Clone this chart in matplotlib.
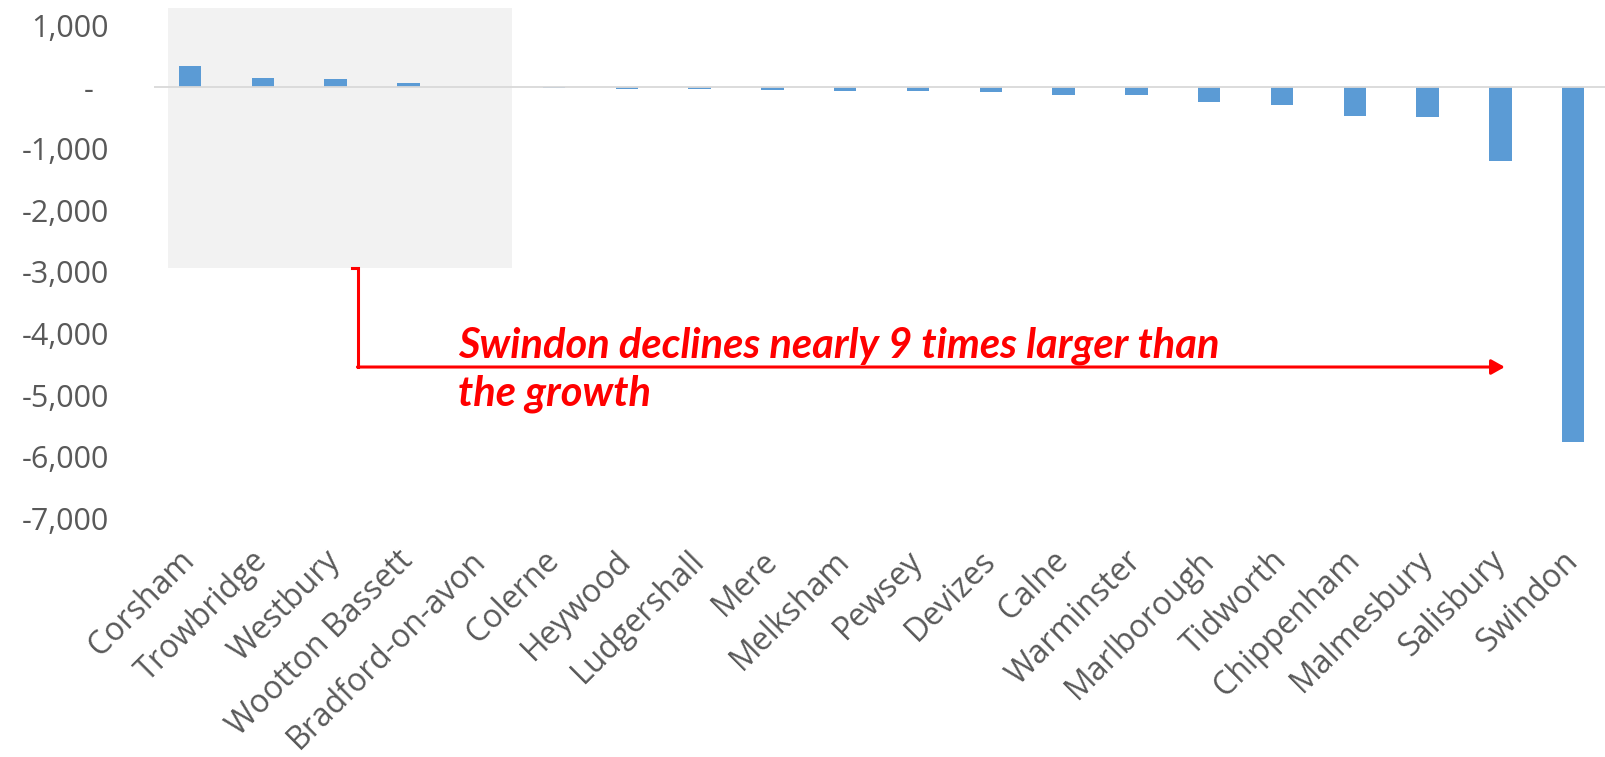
import matplotlib
matplotlib.use("Agg")
from matplotlib import pyplot as plt
from matplotlib.patches import Rectangle
from matplotlib.ticker import FuncFormatter
import numpy as np


# Datos: cambio por ciudad.
ciudades = ["Corsham", "Trowbridge", "Westbury", "Wootton Bassett", "Bradford-on-avon",
            "Colerne", "Heywood", "Ludgershall", "Mere", "Melksham", "Pewsey", "Devizes",
            "Calne", "Warminster", "Marlborough", "Tidworth", "Chippenham", "Malmesbury",
            "Salisbury", "Swindon"]
valores = [345, 145, 135, 65, 0, -15, -25, -30, -50, -55, -62, -82,
           -125, -132, -235, -295, -462, -485, -1197, -5755]
y_ticks = list(range(-7000, 1001, 1000))
nota = "Swindon declines nearly 9 times larger than\nthe growth"

gris_texto = "#595959"

fig = plt.figure(figsize=(16.06, 7.57), dpi=100)
ax = fig.add_axes([153.6 / 1606, 1 - 518.3 / 757, 1456 / 1606, 492.6 / 757])

x = np.arange(len(ciudades))
ax.bar(x, valores, width=0.31, color="#5B9BD5", zorder=2)
ax.axhline(0, color="#D9D9D9", lw=1.3, zorder=3)

ax.set_xlim(-0.5, len(ciudades) - 0.5)
ax.set_ylim(-7000, 1000)
for s in ax.spines.values():
    s.set_visible(False)

# Eje Y con formato contable (el cero es un guion con relleno).
ax.set_yticks(y_ticks)
ax.yaxis.set_major_formatter(FuncFormatter(lambda v, p: "-\u2002" if v == 0 else f"{v:,.0f}"))
ax.tick_params(axis="y", length=0, pad=32, labelsize=22, labelcolor=gris_texto)
for t in ax.get_yticklabels():
    t.set_family("Open Sans")

# Eje X con etiquetas rotadas.
ax.set_xticks(x)
ax.set_xticklabels(ciudades, rotation=45, ha="right", va="center", rotation_mode="anchor",
                   family="Open Sans", fontsize=23, color=gris_texto)
ax.tick_params(axis="x", length=0, pad=27)

# Zona sombreada de crecimiento.
ax.add_patch(Rectangle((-0.3, -2935), 4.72, 4225, facecolor="#F2F2F2",
                       edgecolor="none", zorder=0, clip_on=False))

# Conector y flecha.
ax.plot([2.22, 2.31, 2.31], [-2935, -2935, -4543], color="red", lw=2.2,
        solid_joinstyle="miter", zorder=4, clip_on=False)
ax.annotate("", xy=(18.06, -4543), xytext=(2.30, -4543),
            arrowprops=dict(arrowstyle="-|>,head_length=0.8,head_width=0.45",
                            color="red", lw=2.2, shrinkA=0, shrinkB=0), zorder=4)

ax.text(3.68, -4583, nota, color="red", fontsize=30, fontweight="bold",
        fontstyle="italic", family="Lato", va="center", ha="left",
        linespacing=1.3, zorder=5)

fig.savefig("out.png", dpi=100)
